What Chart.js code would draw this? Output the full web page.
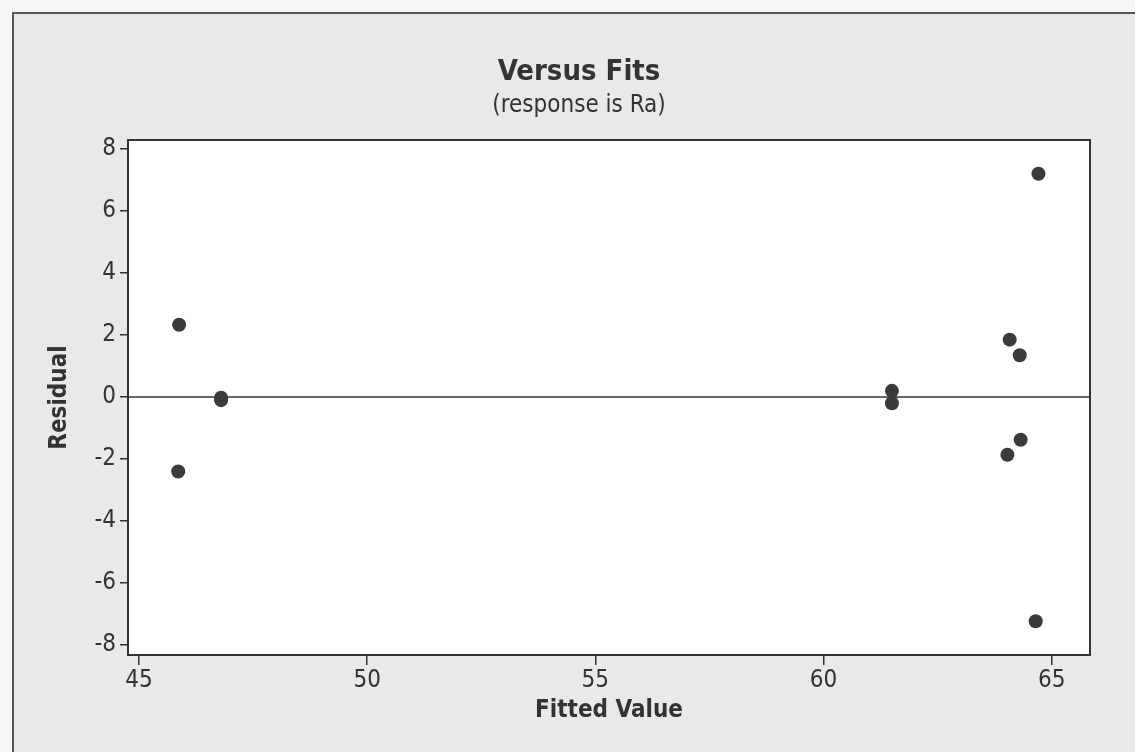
<!DOCTYPE html>
<html>
<head>
<meta charset="utf-8">
<script src="https://cdn.jsdelivr.net/npm/chart.js@4.4.1/dist/chart.umd.min.js"></script>
<style>
  html, body { margin: 0; padding: 0; background: #f6f6f6; }
  #wrap { width: 1135px; height: 752px; position: relative; }
</style>
</head>
<body>
<div id="wrap"><canvas id="c" width="1135" height="752"></canvas></div>
<script>
// ---- data ----
const fittedValues = [45.88, 45.86, 46.80, 46.80, 61.50, 61.50, 64.08, 64.30, 64.32, 64.03, 64.71, 64.65];
const residuals    = [2.33, -2.40, -0.02, -0.10, 0.20, -0.20, 1.85, 1.35, -1.38, -1.86, 7.20, -7.23];
const xTicks = [45, 50, 55, 60, 65];
const yTicks = [-8, -6, -4, -2, 0, 2, 4, 6, 8];
const titleText = 'Versus Fits';
const subtitleText = '(response is Ra)';
const xTitle = 'Fitted Value';
const yTitle = 'Residual';

const FAMILY = "'DejaVu Sans Condensed', 'DejaVu Sans', sans-serif";
const INK = '#333333';

const points = fittedValues.map((x, i) => ({ x: x, y: residuals[i] }));

const backdrop = {
  id: 'backdrop',
  beforeDraw(chart) {
    const { ctx, width, height, chartArea: a } = chart;
    ctx.save();
    ctx.fillStyle = '#f6f6f6';
    ctx.fillRect(0, 0, width, height);
    ctx.fillStyle = '#e9e9e9';
    ctx.fillRect(13, 13, width - 13, height - 13);
    ctx.strokeStyle = '#555555';
    ctx.lineWidth = 2;
    ctx.beginPath();
    ctx.moveTo(13, height);
    ctx.lineTo(13, 13);
    ctx.lineTo(width, 13);
    ctx.stroke();
    ctx.fillStyle = '#ffffff';
    ctx.fillRect(a.left, a.top, a.right - a.left, a.bottom - a.top);
    // titles
    ctx.fillStyle = INK;
    ctx.textAlign = 'center';
    ctx.textBaseline = 'alphabetic';
    ctx.font = "bold 29px " + FAMILY;
    ctx.fillText(titleText, 579, 80);
    ctx.font = "24px " + FAMILY;
    ctx.fillText(subtitleText, 579, 112);
    ctx.restore();
  },
  beforeDatasetsDraw(chart) {
    const { ctx, chartArea: a, scales } = chart;
    const y0 = scales.y.getPixelForValue(0);
    ctx.save();
    ctx.strokeStyle = INK;
    ctx.lineWidth = 1.5;
    ctx.beginPath();
    ctx.moveTo(a.left, y0);
    ctx.lineTo(a.right, y0);
    ctx.stroke();
    ctx.lineWidth = 2;
    ctx.strokeRect(a.left, a.top, a.right - a.left, a.bottom - a.top);
    ctx.restore();
  }
};

new Chart(document.getElementById('c'), {
  type: 'scatter',
  data: {
    datasets: [{
      data: points,
      pointRadius: 7,
      pointHoverRadius: 7,
      pointStyle: 'circle',
      backgroundColor: '#3b3b3b',
      borderColor: '#3b3b3b',
      borderWidth: 0
    }]
  },
  plugins: [backdrop],
  options: {
    responsive: false,
    animation: false,
    devicePixelRatio: 1,
    layout: { padding: { left: 0, right: 45, top: 140, bottom: 0 } },
    plugins: {
      legend: { display: false },
      tooltip: { enabled: false },
      title: { display: false },
      subtitle: { display: false }
    },
    scales: {
      x: {
        type: 'linear',
        min: 44.76,
        max: 65.84,
        afterBuildTicks(scale) { scale.ticks = xTicks.map(v => ({ value: v })); },
        afterFit(scale) { scale.height = 97; },
        grid: { display: true, drawOnChartArea: false, drawTicks: true, tickLength: 10, color: INK, lineWidth: 1.5 },
        border: { display: true, color: INK, width: 2 },
        ticks: { color: INK, padding: 1, maxRotation: 0, font: { family: FAMILY, size: 24, lineHeight: 1.2 } },
        title: {
          display: true,
          text: xTitle,
          color: INK,
          font: { family: FAMILY, size: 24, weight: 'bold', lineHeight: 1.2 },
          padding: { top: 0, bottom: 27 }
        }
      },
      y: {
        type: 'linear',
        min: -8.32,
        max: 8.29,
        afterBuildTicks(scale) { scale.ticks = yTicks.map(v => ({ value: v })); },
        afterFit(scale) { scale.width = 128; },
        grid: { display: true, drawOnChartArea: false, drawTicks: true, tickLength: 8, color: INK, lineWidth: 1.5 },
        border: { display: true, color: INK, width: 2 },
        ticks: { color: INK, padding: 4, font: { family: FAMILY, size: 24, lineHeight: 1.2 } },
        title: {
          display: true,
          text: yTitle,
          color: INK,
          font: { family: FAMILY, size: 24, weight: 'bold', lineHeight: 1.2 },
          padding: { top: 45, bottom: 0 }
        }
      }
    }
  }
});
</script>
</body>
</html>
